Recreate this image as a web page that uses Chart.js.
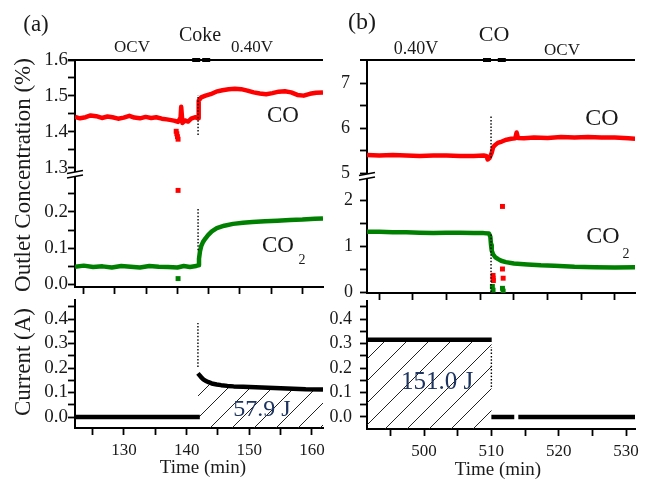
<!DOCTYPE html>
<html>
<head>
<meta charset="utf-8">
<script src="https://cdn.jsdelivr.net/npm/chart.js@4.4.0/dist/chart.umd.min.js"></script>
<style>
  html, body { margin: 0; padding: 0; background: #fff; }
  #wrap { position: relative; width: 646px; height: 480px; overflow: hidden; }
  #wrap canvas { position: absolute; left: 0; top: 0; }
</style>
</head>
<body>
<div id="wrap">
  <canvas id="aCO" width="646" height="480"></canvas>
  <canvas id="aCO2" width="646" height="480"></canvas>
  <canvas id="aCur" width="646" height="480"></canvas>
  <canvas id="bCO" width="646" height="480"></canvas>
  <canvas id="bCO2" width="646" height="480"></canvas>
  <canvas id="bCur" width="646" height="480"></canvas>
</div>
<script>
// ---- data, panel (a) ----
const coA_t = [123.6, 124.4, 125.3, 126.1, 127.0, 127.9, 128.8, 129.6, 130.5, 131.4, 132.3, 133.1, 134.0, 134.9, 135.8, 136.6, 137.5, 138.3, 139.0, 139.6, 140.1, 140.5, 140.6, 140.8, 141.2, 141.7, 142.2, 142.8, 143.3, 143.4, 143.8, 144.5, 145.3, 146.2, 147.2, 148.2, 149.2, 150.2, 151.2, 152.2, 153.2, 154.2, 155.2, 156.2, 157.2, 158.2, 159.2, 160.2, 161.2, 162.2, 163.3];
const coA = [1.442, 1.438, 1.441, 1.446, 1.444, 1.439, 1.443, 1.441, 1.437, 1.440, 1.445, 1.440, 1.438, 1.442, 1.439, 1.441, 1.437, 1.435, 1.433, 1.431, 1.428, 1.440, 1.470, 1.425, 1.432, 1.429, 1.437, 1.441, 1.438, 1.487, 1.496, 1.501, 1.505, 1.512, 1.516, 1.519, 1.520, 1.519, 1.515, 1.510, 1.507, 1.505, 1.508, 1.512, 1.513, 1.510, 1.503, 1.501, 1.506, 1.509, 1.510];
const coDipA_t = [139.8, 139.9, 140.0, 140.1];
const coDipA = [1.402, 1.395, 1.387, 1.380];
const co2A_t = [123.6, 125.0, 126.5, 128.0, 129.5, 131.0, 132.5, 134.0, 135.5, 137.0, 138.5, 140.0, 141.0, 142.0, 143.0, 143.3, 143.45, 143.6, 143.8, 144.1, 144.5, 144.9, 145.5, 146.3, 147.5, 148.9, 150.5, 152.0, 154.0, 156.0, 158.0, 160.0, 162.0, 163.3];
const co2A = [0.048, 0.051, 0.047, 0.049, 0.046, 0.050, 0.048, 0.046, 0.050, 0.048, 0.047, 0.046, 0.050, 0.047, 0.050, 0.052, 0.070, 0.090, 0.105, 0.117, 0.127, 0.136, 0.146, 0.155, 0.162, 0.167, 0.170, 0.172, 0.174, 0.176, 0.178, 0.179, 0.181, 0.182];
const redA_t = [140.1], redA = [0.26];
const greenA_t = [140.1], greenA = [0.015];
const curOffA_t = [122.18, 142.1], curOffA = [0, 0];
const curOnA_t = [141.8, 142.0, 142.3, 142.6, 143.0, 143.5, 144.0, 144.8, 145.5, 146.5, 147.5, 149.0, 151.0, 153.0, 155.0, 157.0, 159.0, 161.76];
const curOnA = [0.178, 0.172, 0.163, 0.155, 0.148, 0.142, 0.137, 0.133, 0.130, 0.127, 0.125, 0.123, 0.121, 0.119, 0.117, 0.115, 0.113, 0.112];
const cokeA_t = [143.0, 144.6];
const stepA_t = 143.3, stepA_co = [1.392, 1.503], stepA_co2 = [0.094, 0.208];
const stepCurA_t = 141.8, stepCurA = [0.204, 0.384];

// ---- data, panel (b) ----
const coB_t = [493.17, 495, 497, 499, 501, 503, 505, 507, 509, 510.5, 510.9, 511.1, 511.4, 511.7, 511.9, 512.2, 512.6, 513.2, 513.9, 514.6, 515.2, 515.4, 515.6, 516.5, 518, 520, 522, 524, 526, 528, 530, 532, 533];
const coB = [5.40, 5.39, 5.40, 5.39, 5.38, 5.39, 5.39, 5.38, 5.38, 5.39, 5.38, 5.30, 5.34, 5.45, 5.57, 5.62, 5.67, 5.70, 5.74, 5.76, 5.77, 5.90, 5.78, 5.77, 5.79, 5.78, 5.80, 5.79, 5.80, 5.79, 5.79, 5.77, 5.76];
const co2B_t = [493.17, 495, 497, 499, 501, 503, 505, 507, 509, 510.5, 511.3, 511.5, 511.6, 511.7, 511.9, 512.2, 512.6, 513.1, 513.8, 515, 517, 519, 521, 524, 527, 530, 533];
const co2B = [1.31, 1.31, 1.30, 1.30, 1.29, 1.28, 1.29, 1.29, 1.28, 1.28, 1.27, 1.20, 1.02, 0.90, 0.82, 0.76, 0.72, 0.68, 0.65, 0.62, 0.60, 0.58, 0.57, 0.55, 0.54, 0.53, 0.54];
const redB_t = [511.9, 511.9, 511.95, 513.3, 513.3, 513.4], redB = [0.36, 0.30, 0.25, 1.86, 0.50, 0.30];
const greenB_t = [511.8, 511.9, 513.3, 513.4], greenB = [0.12, 0.04, 0.08, 0.02];
const curOnB_t = [491.53, 510.05], curOnB = [0.315, 0.315];
const curOff1B_t = [510.0, 513.4], curOff1B = [0, 0];
const curOff2B_t = [514.0, 531.33], curOff2B = [0, 0];
const coEventB_t = [511.0, 513.2];
const stepB_t = 511.6, stepB_co = [5.34, 6.28], stepB_co2 = [0, 1.29];
const stepCurB_t = 510.0, stepCurB = [0.122, 0.286];

// ---- tick values ----
const timeTicksA = [130, 140, 150, 160], timeMinorA = [125, 135, 145, 155];
const timeTicksB = [500, 510, 520, 530], timeMinorB = [495, 505, 515, 525];
const coTicksA = [1.3, 1.4, 1.5, 1.6], coMinorA = [1.35, 1.45, 1.55];
const co2TicksA = [0, 0.1, 0.2], co2MinorA = [0.05, 0.15, 0.25];
const coTicksB = [5, 6, 7], coMinorB = [5.5, 6.5];
const co2TicksB = [0, 1, 2], co2MinorB = [0.5, 1.5];
const curTicks = [0, 0.1, 0.2, 0.3, 0.4], curMinor = [0.05, 0.15, 0.25, 0.35, 0.45];

const SERIF = '"Liberation Serif", "Times New Roman", serif';
const W = 646, H = 480;
const RED = '#ff0000', GREEN = '#008000';

const pts = (xs, ys) => xs.map((x, i) => ({ x, y: ys[i] }));
const trace = (data, color, width) => ({ data, showLine: true, borderColor: color, borderWidth: width, pointRadius: 0, borderJoinStyle: 'round' });
const dots = (data, color) => ({ data, showLine: false, pointStyle: 'rect', pointRadius: 3.5, pointBackgroundColor: color, pointBorderColor: color, pointBorderWidth: 0 });
const dotted = (t, ys) => ({ data: pts([t, t], ys), showLine: true, borderColor: '#000', borderWidth: 1.4, borderDash: [1.5, 1.8], pointRadius: 0 });
const marks = (ts, y) => ({ data: ts.map(t => ({ x: t, y })), showLine: false, pointStyle: 'line', pointRadius: 4, pointBorderWidth: 4, pointBorderColor: '#000', clip: false });

function hatch() {
  const c = document.createElement('canvas');
  c.width = 22; c.height = 22;
  const g = c.getContext('2d');
  g.strokeStyle = '#222'; g.lineWidth = 1;
  g.beginPath();
  for (const k of [0, 22, 44]) { g.moveTo(k - 24, 24); g.lineTo(k + 2, -2); }
  g.stroke();
  return g.createPattern(c, 'repeat');
}

function axis(a, isX, left) {
  return {
    type: 'linear', min: a.min, max: a.max, bounds: 'data',
    afterBuildTicks: s => { s.ticks = a.major.concat(a.minor).sort((p, q) => p - q).map(v => ({ value: v })); },
    afterFit: s => {
      if (isX) s.height = a.size; else s.width = left;
      s.paddingLeft = s.paddingRight = s.paddingTop = s.paddingBottom = 0;
    },
    grid: { display: !a.hide, drawOnChartArea: false, tickLength: 7, tickWidth: 1.8, tickColor: '#000' },
    border: { display: !a.hide, color: '#000', width: 2 },
    ticks: {
      display: !!a.fmt, autoSkip: false, maxRotation: 0, padding: a.pad || 0,
      color: '#1a1a1a', font: { family: SERIF, size: a.font || 17 },
      callback: v => (a.fmt && a.major.includes(v)) ? a.fmt(v) : ''
    }
  };
}

function chart(id, area, xa, ya, datasets, plugins = []) {
  return new Chart(document.getElementById(id), {
    type: 'scatter',
    data: { datasets },
    options: {
      responsive: false, animation: false, events: [], devicePixelRatio: 1,
      layout: { padding: { left: 0, top: area.t, right: W - area.r, bottom: H - area.b - xa.size } },
      plugins: { legend: { display: false }, tooltip: { enabled: false } },
      elements: { line: { tension: 0 } },
      scales: { x: axis(xa, true, area.l), y: axis(ya, false, area.l) }
    },
    plugins
  });
}

const topLine = {
  id: 'topLine',
  afterDraw(c) {
    const { left, right, top } = c.chartArea, g = c.ctx;
    g.save(); g.strokeStyle = '#000'; g.lineWidth = 2;
    g.beginPath(); g.moveTo(left - 7, top); g.lineTo(right, top); g.stroke(); g.restore();
  }
};
const axisBreak = {
  id: 'axisBreak',
  afterDraw(c) {
    const { left, top } = c.chartArea, g = c.ctx;
    g.save();
    g.fillStyle = '#fff'; g.fillRect(left - 2, top - 1, 4, 4);
    g.strokeStyle = '#000'; g.lineWidth = 1.5;
    for (const d of [-1.5, 3]) { g.beginPath(); g.moveTo(left - 8, top + d + 2); g.lineTo(left + 8, top + d - 1); g.stroke(); }
    g.restore();
  }
};

const notes = [
  ['(a)', 36, 25, 23], ['Coke', 200, 36, 20], ['OCV', 132, 48, 17], ['0.40V', 252, 48, 17],
  ['CO', 283, 116, 23], ['CO', 278, 246, 23], ['2', 302, 260, 14],
  ['57.9 J', 262, 410, 24, '#1d3560'],
  ['(b)', 362, 23, 24], ['CO', 494, 35, 22], ['0.40V', 416, 49, 18], ['OCV', 562, 51, 17],
  ['CO', 602, 119, 24], ['CO', 603, 237, 24], ['2', 626, 254, 14],
  ['151.0 J', 437, 382, 25, '#1d3560'],
  ['Time (min)', 203, 468, 19], ['Time (min)', 498, 470, 19],
  ['Outlet Concentration (%)', 24, 175, 23, null, true], ['Current (A)', 24, 362, 23, null, true]
];
const annot = {
  id: 'annot',
  afterDraw(c) {
    const g = c.ctx;
    g.save(); g.textAlign = 'center'; g.textBaseline = 'middle';
    for (const [txt, x, y, size, color, rot] of notes) {
      g.font = size + 'px ' + SERIF; g.fillStyle = color || '#1a1a1a';
      g.save(); g.translate(x, y); if (rot) g.rotate(-Math.PI / 2); g.fillText(txt, 0, 0); g.restore();
    }
    g.restore();
  }
};

const tick1 = v => v.toFixed(1);
const tickInt = v => String(v);

// ---- panel (a) ----
const upXA = { min: 123.6, max: 163.3, major: timeTicksA, minor: timeMinorA, size: 10 };
const coAxA = { min: 1.2861, max: 1.6, major: coTicksA, minor: coMinorA, fmt: tick1, font: 19, pad: 0 };
chart('aCO', { l: 75, t: 60, r: 323, b: 173 }, { ...upXA, major: [], minor: [], size: 0, hide: true }, coAxA, [
  marks(cokeA_t, coAxA.max),
  dotted(stepA_t, stepA_co),
  dots(pts(coDipA_t, coDipA), RED),
  trace(pts(coA_t, coA), RED, 4.5)
], [topLine]);
chart('aCO2', { l: 75, t: 173, r: 323, b: 287 }, upXA,
  { min: -0.00833, max: 0.30833, major: co2TicksA, minor: co2MinorA, fmt: tick1, font: 19, pad: 0 }, [
  dotted(stepA_t, stepA_co2),
  dots(pts(redA_t, redA), RED),
  dots(pts(greenA_t, greenA), GREEN),
  trace(pts(co2A_t, co2A), GREEN, 4.5)
], [axisBreak]);
chart('aCur', { l: 75, t: 300, r: 323, b: 428 },
  { min: 122.18, max: 161.76, major: timeTicksA, minor: timeMinorA, fmt: tickInt, size: 30, pad: 5, font: 17 },
  { min: -0.0449, max: 0.4776, major: curTicks, minor: curMinor, fmt: tick1, font: 19, pad: 0 }, [
  dotted(stepCurA_t, stepCurA),
  trace(pts(curOffA_t, curOffA), '#000', 4.5),
  { ...trace(pts(curOnA_t, curOnA), '#000', 4.5), fill: 'start', backgroundColor: hatch() }
]);

// ---- panel (b) ----
const upXB = { min: 493.17, max: 532.99, major: timeTicksB, minor: timeMinorB, size: 10 };
const coAxB = { min: 4.956, max: 7.511, major: coTicksB, minor: coMinorB, fmt: tickInt, font: 18, pad: 10 };
chart('bCO', { l: 367, t: 60, r: 635, b: 175 }, { ...upXB, major: [], minor: [], size: 0, hide: true }, coAxB, [
  marks(coEventB_t, coAxB.max),
  dotted(stepB_t, stepB_co),
  trace(pts(coB_t, coB), RED, 4.5)
], [topLine]);
chart('bCO2', { l: 367, t: 175, r: 635, b: 293 }, upXB,
  { min: -0.0217, max: 2.5435, major: co2TicksB, minor: co2MinorB, fmt: tickInt, font: 18, pad: 7 }, [
  dotted(stepB_t, stepB_co2),
  dots(pts(redB_t, redB), RED),
  dots(pts(greenB_t, greenB), GREEN),
  trace(pts(co2B_t, co2B), GREEN, 4.5)
], [axisBreak]);
chart('bCur', { l: 367, t: 301, r: 635, b: 429 },
  { min: 491.53, max: 531.33, major: timeTicksB, minor: timeMinorB, fmt: tickInt, size: 30, pad: 5, font: 17 },
  { min: -0.049, max: 0.4735, major: curTicks, minor: curMinor, fmt: tick1, font: 18, pad: 8 }, [
  dotted(stepCurB_t, stepCurB),
  trace(pts(curOff1B_t, curOff1B), '#000', 4.5),
  trace(pts(curOff2B_t, curOff2B), '#000', 4.5),
  { ...trace(pts(curOnB_t, curOnB), '#000', 4.5), fill: 'start', backgroundColor: hatch() }
], [annot]);
</script>
</body>
</html>
